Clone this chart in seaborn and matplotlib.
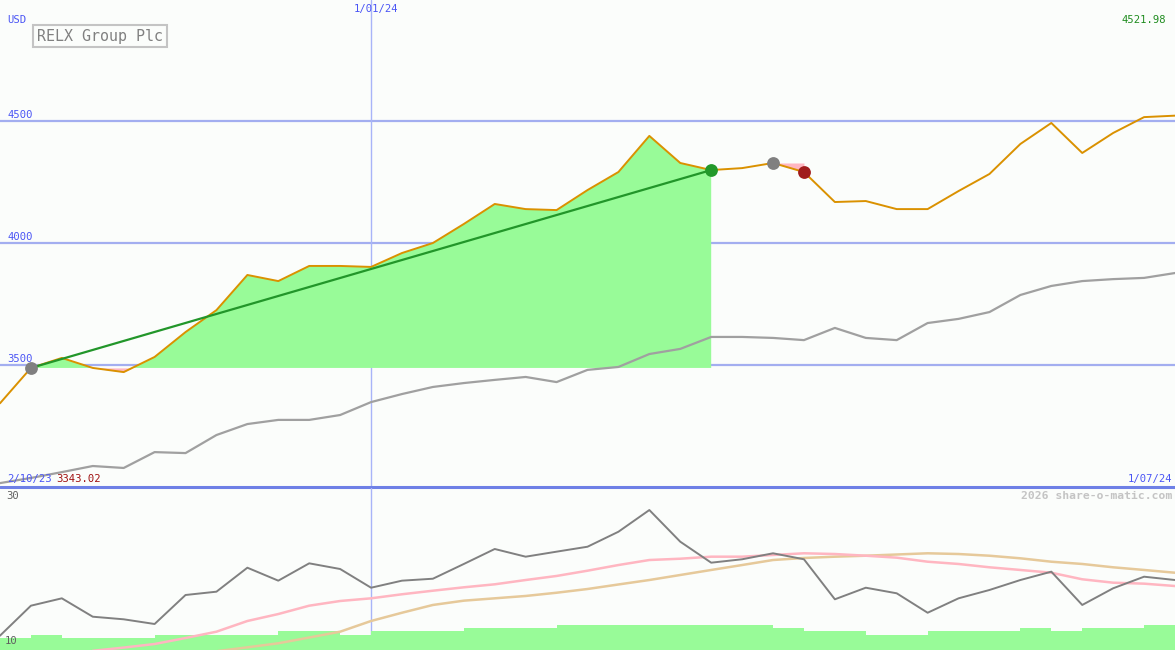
import numpy as np
import pandas as pd
import matplotlib
matplotlib.use("Agg")
import matplotlib.pyplot as plt
import seaborn as sns

# ------------------------------
# Data (weekly points, 2/10/23 .. 1/07/24)
# ------------------------------
price = [3343.02, 3488, 3529, 3488, 3471, 3533, 3635, 3725, 3869, 3844,
         3906, 3906, 3902, 3959, 4000, 4078, 4160, 4139, 4135, 4217,
         4291, 4439, 4328, 4299, 4307, 4328, 4291, 4168, 4172, 4139,
         4139, 4213, 4283, 4406, 4492, 4369, 4451, 4516, 4521.98]
avg = [3016, 3037, 3061, 3086, 3078, 3143, 3139, 3213, 3258, 3275,
       3275, 3295, 3348, 3381, 3410, 3426, 3439, 3451, 3430, 3480,
       3492, 3545, 3566, 3615, 3615, 3611, 3602, 3652, 3611, 3602,
       3672, 3689, 3717, 3787, 3824, 3844, 3852, 3857, 3877]
osc = [11.77, 15.47, 16.38, 14.11, 13.79, 13.21, 16.79, 17.20, 20.16, 18.56,
       20.70, 20.00, 17.69, 18.56, 18.80, 20.62, 22.47, 21.52, 22.14, 22.75,
       24.60, 27.28, 23.37, 20.78, 21.20, 21.94, 21.20, 16.26, 17.69, 17.00,
       14.60, 16.38, 17.41, 18.64, 19.67, 15.56, 17.62, 19.05, 18.64]
osc_fast = [np.nan, np.nan, np.nan, 9.90, 10.30, 10.74, 11.48, 12.26, 13.58, 14.44,
            15.47, 16.05, 16.38, 16.88, 17.32, 17.74, 18.11, 18.64, 19.14, 19.79,
            20.49, 21.11, 21.27, 21.52, 21.52, 21.73, 21.94, 21.85, 21.64, 21.40,
            20.90, 20.62, 20.21, 19.88, 19.54, 18.73, 18.31, 18.19, 17.90]
osc_slow = [np.nan] * 7 + [9.85, 10.33, 10.83,
            11.54, 12.26, 13.58, 14.60, 15.56, 16.09, 16.38, 16.67, 17.07, 17.53,
            18.09, 18.64, 19.26, 19.88, 20.49, 21.11, 21.36, 21.52, 21.64, 21.79,
            21.94, 21.85, 21.64, 21.32, 20.90, 20.62, 20.21, 19.88, 19.54]
vol = [11.52, 11.85, 11.52, 11.52, 11.52, 11.85, 11.85, 11.85, 11.85, 12.35,
       12.35, 11.85, 12.35, 12.35, 12.35, 12.75, 12.75, 12.75, 13.09, 13.09,
       13.09, 13.09, 13.09, 13.09, 13.09, 12.75, 12.35, 12.35, 11.85, 11.85,
       12.35, 12.35, 12.35, 12.75, 12.35, 12.75, 12.75, 13.09]

grid_levels = [3500, 4000, 4500]
jan_idx = 12          # point where 1/01/24 falls
buy_idx, sell_idx = 1, 23
dd_start, dd_end = 25, 26

df = pd.DataFrame({"i": np.arange(len(price)), "price": price, "avg": avg,
                   "osc": osc, "fast": osc_fast, "slow": osc_slow})

# ------------------------------
# Figure
# ------------------------------
sns.set_style("white")
plt.rcParams["font.family"] = ["DejaVu Sans Mono"]
bg = "#fbfdfb"
W, H = 1175, 650
fig = plt.figure(figsize=(W / 100, H / 100), dpi=100, facecolor=bg)

ax = fig.add_axes([0, 163 / H, 1, 487 / H])
ax2 = fig.add_axes([0, 0, 1, 162 / H])
for a in (ax, ax2):
    a.set_facecolor(bg)
    a.set_xlim(0, len(price) - 1)

ax.set_ylim(3000, 4996)
ax2.set_ylim(10, 30)

# grid
for lv in grid_levels:
    ax.axhline(lv, color="#a3aef0", lw=1.6, zorder=1)
ax.axvline(jan_idx, color="#a8b4f8", lw=1.0, zorder=1)
ax2.axvline(jan_idx, color="#a8b4f8", lw=1.0, zorder=1)

# shaded gain / drawdown areas
x = df["i"].values
p = np.array(price)
base = p[buy_idx]
seg = slice(buy_idx, sell_idx + 1)
ax.fill_between(x[seg], p[seg], base, where=p[seg] >= base, interpolate=True,
                color="#98fb98", lw=0, zorder=2)
ax.fill_between(x[seg], p[seg], base, where=p[seg] < base, interpolate=True,
                color="#ffb6c1", lw=0, zorder=2)
dd = slice(dd_start, dd_end + 1)
ax.fill_between(x[dd], p[dd], p[dd_start], color="#ffb6c1", lw=0, zorder=2)

sns.lineplot(data=df, x="i", y="avg", ax=ax, color="#a0a0a0", lw=1.6, zorder=3)
sns.lineplot(data=df, x="i", y="price", ax=ax, color="#da9100", lw=1.4, zorder=4)
ax.plot([buy_idx, sell_idx], [p[buy_idx], p[sell_idx]], color="#22962a", lw=1.6, zorder=5)
ax.scatter([buy_idx, dd_start], [p[buy_idx], p[dd_start]], s=85, color="#808080", zorder=6, lw=0)
ax.scatter([sell_idx], [p[sell_idx]], s=85, color="#22992a", zorder=6, lw=0)
ax.scatter([dd_end], [p[dd_end]], s=85, color="#a01c1c", zorder=6, lw=0)
ax.axhline(3000, color="#6e80e6", lw=2.2, clip_on=False, zorder=7)

# lower panel
ax2.bar(np.arange(len(vol)) + 0.5, np.array(vol) - 10, width=1.0, bottom=10,
        color="#98fb98", lw=0, zorder=2)
sns.lineplot(data=df, x="i", y="slow", ax=ax2, color="#e6c99a", lw=1.8, zorder=3)
sns.lineplot(data=df, x="i", y="fast", ax=ax2, color="#ffb6c1", lw=1.8, zorder=3)
sns.lineplot(data=df, x="i", y="osc", ax=ax2, color="#808080", lw=1.4, zorder=4)

for a in (ax, ax2):
    a.set_axis_off()


def fx(px, py):
    return px / W, 1 - py / H


blue = "#4a55f5"
fs = 7.6
fig.text(*fx(7, 20), "USD", color=blue, fontsize=fs, va="center")
for lv in grid_levels:
    ypx = 365 - (lv - 3500) * 122 / 500
    fig.text(*fx(7, ypx - 6), str(lv), color=blue, fontsize=fs, va="center")
fig.text(*fx(376, 9), "1/01/24", color=blue, fontsize=fs, va="center", ha="center")
fig.text(*fx(1166, 20), "4521.98", color="#1e8c1e", fontsize=fs, va="center", ha="right")
fig.text(*fx(7, 479), "2/10/23", color=blue, fontsize=fs, va="center")
fig.text(*fx(56, 479), "3343.02", color="#a01010", fontsize=fs, va="center")
fig.text(*fx(1172, 479), "1/07/24", color=blue, fontsize=fs, va="center", ha="right")
fig.text(*fx(6, 496), "30", color="#606060", fontsize=fs, va="center")
fig.text(*fx(5, 641), "10", color="#606060", fontsize=fs, va="center")
fig.text(*fx(1172, 496), "2026 share-o-matic.com", color="#c4c4c4", fontsize=8.2,
         fontweight="bold", va="center", ha="right")
fig.text(*fx(37, 36), "RELX Group Plc", color="#808080", fontsize=10.8, va="center",
         bbox=dict(boxstyle="square,pad=0.25", fc=bg, ec="#c4c4c4", lw=1.5))

fig.savefig("out.png", dpi=100, facecolor=bg)
